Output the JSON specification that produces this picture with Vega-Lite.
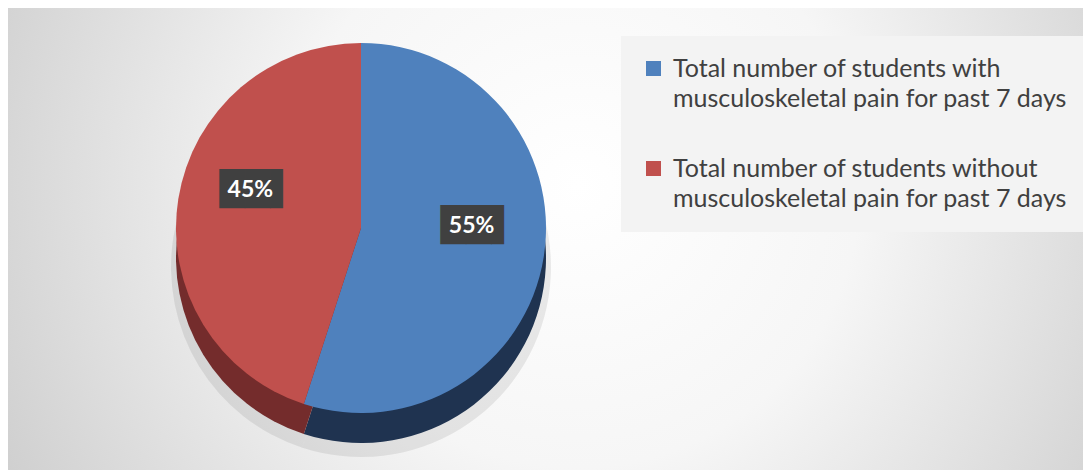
{
  "$schema": "https://vega.github.io/schema/vega-lite/v6.json",
  "width": 1075,
  "height": 462,
  "autosize": {"type": "none"},
  "padding": {"left": 8, "top": 8, "right": 0, "bottom": 0},
  "background": "white",
  "config": {"view": {"stroke": "#d9d9d9", "strokeWidth": 1}, "style": {"guide-label": {"lineHeight": 30}}},
  "data": {
    "values": [
      {"category": "Total number of students with musculoskeletal pain for past 7 days", "share": 0.55, "order": 1},
      {"category": "Total number of students without musculoskeletal pain for past 7 days", "share": 0.45, "order": 2}
    ]
  },
  "layer": [
    {
      "data": {"values": [{"bg": 1}]},
      "mark": {
        "type": "rect",
        "fill": {
          "gradient": "radial",
          "x1": 0.53, "y1": 0.45, "x2": 0.53, "y2": 0.45, "r1": 0, "r2": 0.75,
          "stops": [{"offset": 0, "color": "#ffffff"}, {"offset": 0.35, "color": "#f6f6f6"}, {"offset": 1, "color": "#bdbdbd"}]
        }
      },
      "encoding": {}
    },
    {
      "mark": {"type": "arc", "radius": 190, "color": "#000000", "opacity": 0.08, "xOffset": -184.5, "yOffset": 28},
      "encoding": {
        "theta": {"field": "share", "type": "quantitative", "stack": true},
        "order": {"field": "order", "type": "quantitative"}
      }
    },
    {
      "mark": {"type": "arc", "radius": 185, "xOffset": -184.5, "yOffset": 19},
      "encoding": {
        "theta": {"field": "share", "type": "quantitative", "stack": true},
        "order": {"field": "order", "type": "quantitative"},
        "color": {
          "field": "category", "type": "nominal",
          "scale": {"domain": ["Total number of students with musculoskeletal pain for past 7 days", "Total number of students without musculoskeletal pain for past 7 days"], "range": ["#1f3350", "#742c2c"]},
          "legend": null
        }
      }
    },
    {
      "mark": {"type": "arc", "radius": 185, "xOffset": -184.5, "yOffset": -11},
      "encoding": {
        "theta": {"field": "share", "type": "quantitative", "stack": true},
        "order": {"field": "order", "type": "quantitative"},
        "color": {
          "field": "category", "type": "nominal",
          "scale": {"domain": ["Total number of students with musculoskeletal pain for past 7 days", "Total number of students without musculoskeletal pain for past 7 days"], "range": ["#4f81bd", "#c0504d"]},
          "legend": {
            "orient": "none", "legendX": 613, "legendY": 28, "title": null,
            "symbolType": "square", "symbolSize": 225, "symbolStrokeWidth": 0,
            "labelFont": "Lato", "labelFontSize": 25, "labelColor": "#404040", "labelLimit": 0, "labelOffset": 7,
            "rowPadding": 44, "padding": 20, "fillColor": "#f3f3f3",
            "labelExpr": "[slice(datum.label, 0, indexof(datum.label, ' musculoskeletal')), slice(datum.label, indexof(datum.label, ' musculoskeletal') + 1)]",
            "encoding": {"labels": {"lineHeight": {"value": 30}}}
          }
        }
      }
    },
    {
      "mark": {"type": "text", "radius": 112, "xOffset": -184.5, "yOffset": -31, "dx": 7, "font": "DejaVu Sans", "fontSize": 33, "color": "#404040", "text": "██▌"},
      "encoding": {
        "theta": {"field": "share", "type": "quantitative", "stack": true},
        "order": {"field": "order", "type": "quantitative"}
      }
    },
    {
      "mark": {"type": "text", "radius": 112, "xOffset": -184.5, "yOffset": -31, "font": "Lato", "fontWeight": "bold", "fontSize": 23, "color": "#ffffff"},
      "encoding": {
        "theta": {"field": "share", "type": "quantitative", "stack": true},
        "order": {"field": "order", "type": "quantitative"},
        "text": {"field": "share", "type": "quantitative", "format": ".0%"}
      }
    }
  ],
  "resolve": {"scale": {"color": "independent"}}
}
